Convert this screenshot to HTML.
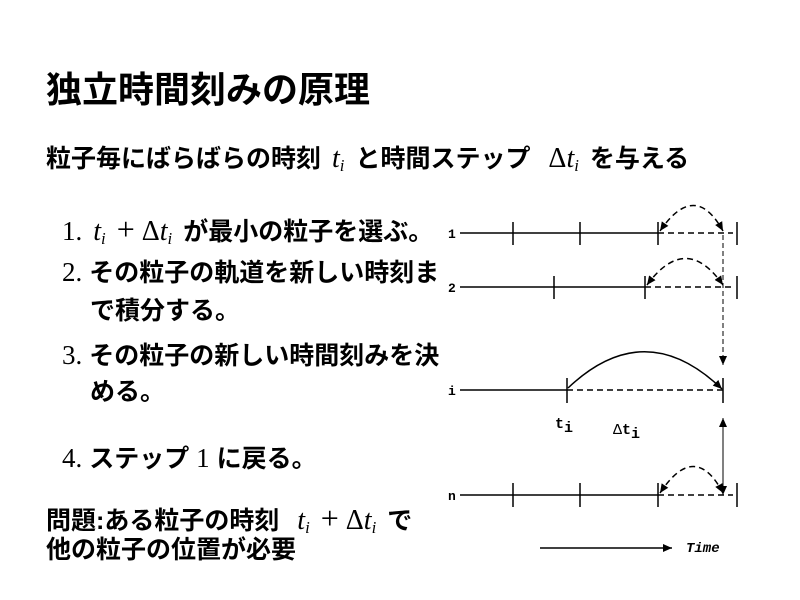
<!DOCTYPE html>
<html><head><meta charset="utf-8"><style>
body{margin:0;width:800px;height:600px;background:#fff;position:relative;overflow:hidden;font-family:"Liberation Sans","Noto Sans CJK JP",sans-serif;font-weight:bold;color:#000}
.t{position:absolute;white-space:nowrap;line-height:1}
.m{font-family:"Liberation Serif",serif;font-style:italic;font-weight:normal;font-size:28px;margin:0 11px}
.r{font-family:"Liberation Serif",serif;font-weight:normal;font-size:27px}
.o{font-family:"Liberation Serif",serif;font-weight:normal;font-size:32px;margin:0 7px 0 0}
sub{font-size:60%;vertical-align:-0.25em}
</style></head><body>
<div class="t" style="left:46px;top:72px;font-size:36px">独立時間刻みの原理</div>
<div class="t" style="left:46px;top:145px;font-size:25px">粒子毎にばらばらの時刻<span class="m">t<sub>i</sub></span>と時間ステップ <span class="m"><span style="font-style:normal">Δ</span>t<sub>i</sub></span>を与える</div>
<div class="t" style="left:62px;top:213px;font-size:25px"><span class="r">1.</span><span class="m">t<sub>i</sub></span><span class="o">+</span><span class="m" style="margin-left:0"><span style="font-style:normal">Δ</span>t<sub>i</sub></span>が最小の粒子を選ぶ。</div>
<div class="t" style="left:62px;top:259px;font-size:25px"><span class="r">2.</span> その粒子の軌道を新しい時刻ま</div>
<div class="t" style="left:90px;top:299px;font-size:25px">で積分する。</div>
<div class="t" style="left:62px;top:342px;font-size:25px"><span class="r">3.</span> その粒子の新しい時間刻みを決</div>
<div class="t" style="left:90px;top:380px;font-size:25px">める。</div>
<div class="t" style="left:62px;top:445px;font-size:25px"><span class="r">4.</span> ステップ <span class="r">1</span> に戻る。</div>
<div class="t" style="left:46px;top:502px;font-size:25px">問題:ある粒子の時刻 <span class="m">t<sub>i</sub></span><span class="o">+</span><span class="m" style="margin-left:0"><span style="font-style:normal">Δ</span>t<sub>i</sub></span>で</div>
<div class="t" style="left:46px;top:538px;font-size:25px">他の粒子の位置が必要</div>
<svg style="position:absolute;left:0;top:0" width="800" height="600">
<defs><marker id="a" markerWidth="10" markerHeight="10" refX="9" refY="5" orient="auto-start-reverse" markerUnits="userSpaceOnUse"><path d="M0,1 L9,5 L0,9 z" fill="#000"/></marker></defs>
<g stroke="#000" stroke-width="1.5" fill="none">
<line x1="460" y1="233" x2="658" y2="233"/>
<line x1="513" y1="222" x2="513" y2="245"/><line x1="580" y1="222" x2="580" y2="245"/><line x1="658" y1="222" x2="658" y2="245"/><line x1="737" y1="222" x2="737" y2="245"/>
<line x1="658" y1="233" x2="733" y2="233" stroke-dasharray="6,4"/>
<path d="M660,231 Q695,180 723,231" stroke-dasharray="6,4" marker-end="url(#a)" marker-start="url(#a)"/>
<line x1="460" y1="287" x2="645" y2="287"/>
<line x1="554" y1="276" x2="554" y2="299"/><line x1="645" y1="276" x2="645" y2="299"/><line x1="737" y1="276" x2="737" y2="299"/>
<line x1="645" y1="287" x2="733" y2="287" stroke-dasharray="6,4"/>
<path d="M647,285 Q686,232 723,285" stroke-dasharray="6,4" marker-end="url(#a)" marker-start="url(#a)"/>
<line x1="723" y1="235" x2="723" y2="365" stroke-width="1" stroke-dasharray="5,3" marker-end="url(#a)"/>
<line x1="460" y1="390" x2="567" y2="390"/>
<line x1="567" y1="378" x2="567" y2="403"/><line x1="723" y1="378" x2="723" y2="403"/>
<line x1="567" y1="390" x2="723" y2="390" stroke-dasharray="6,4"/>
<path d="M568,388 Q645,315 722,389" marker-end="url(#a)"/>
<line x1="723" y1="418" x2="723" y2="495" stroke-width="1" marker-end="url(#a)" marker-start="url(#a)"/>
<line x1="460" y1="495" x2="658" y2="495"/>
<line x1="513" y1="483" x2="513" y2="507"/><line x1="580" y1="483" x2="580" y2="507"/><line x1="658" y1="483" x2="658" y2="507"/><line x1="737" y1="483" x2="737" y2="507"/>
<line x1="658" y1="495" x2="733" y2="495" stroke-dasharray="6,4"/>
<path d="M660,493 Q695,440 723,493" stroke-dasharray="6,4" marker-end="url(#a)" marker-start="url(#a)"/>
<line x1="540" y1="548" x2="672" y2="548" marker-end="url(#a)"/>
</g>
<g font-family="Liberation Mono,monospace" font-size="13" font-weight="bold">
<text x="448" y="238">1</text><text x="448" y="292">2</text><text x="448" y="395">i</text><text x="448" y="500">n</text>
<text x="555" y="428" font-size="15">t<tspan dy="4">i</tspan></text>
<text x="613" y="434" font-size="15" font-weight="normal">Δ<tspan font-weight="bold">t</tspan><tspan dy="4" font-weight="bold">i</tspan></text>
<text x="686" y="552" font-style="italic" font-size="14">Time</text>
</g>
</svg>
</body></html>
